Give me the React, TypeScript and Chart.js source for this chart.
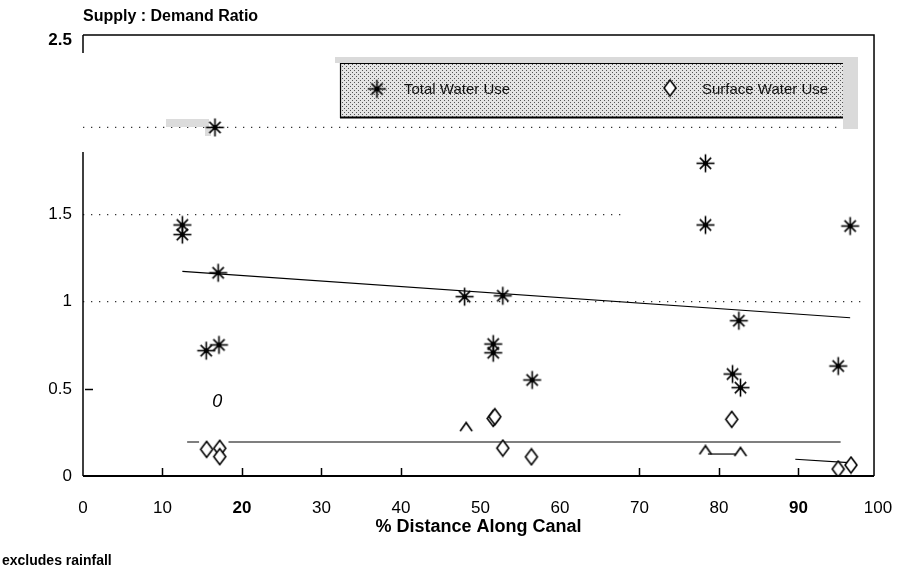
import React, { useEffect, useRef } from "react";
import { Chart, registerables } from "chart.js";

Chart.register(...registerables);

// ---------------- data ----------------
const totalX = [12.5, 12.5, 16.6, 17.0, 15.5, 17.1, 48.0, 52.8, 51.6, 51.6, 56.5, 78.3, 78.3, 96.5, 82.5, 81.7, 82.7, 95.0];
const totalY = [1.44, 1.385, 2.0, 1.166, 0.719, 0.752, 1.029, 1.034, 0.757, 0.707, 0.551, 1.794, 1.44, 1.434, 0.891, 0.585, 0.507, 0.631];

const surfaceX = [15.55, 17.2, 17.2, 48.2, 51.6, 51.8, 52.8, 56.4, 81.6, 78.3, 82.7, 95.0, 96.6];
const surfaceY = [0.153, 0.159, 0.111, 0.283, 0.33, 0.34, 0.16, 0.11, 0.325, 0.15, 0.14, 0.04, 0.063];
const surfacePartial = [false, false, false, true, false, false, false, false, false, true, true, false, false];

const totalTrendX = [12.5, 96.5];
const totalTrendY = [1.174, 0.908];

const surfaceTrendX = [13.1, 14.6, 16.0, 18.3, 95.3];
const surfaceTrendY = [0.195, 0.195, null, 0.195, 0.195];

const endSegX = [89.6, 96.3];
const endSegY = [0.096, 0.077];
const midSegX = [78.6, 82.1];
const midSegY = [0.126, 0.126];

const refLevels = [2, 1.5, 1];
const refLevelEnds = [96.8, 68.2, 98.2];

const xTickValues = [0, 10, 20, 30, 40, 50, 60, 70, 80, 90, 100];
const xBoldTicks = [20, 90];
const xTickMarks = [10, 20, 30, 40, 70, 80, 90];
const yTickValues = [0, 0.5, 1, 1.5, 2.5];
const yBoldTicks = [2.5];
const yTickMarks = [0.5];

const strayTexts = [{ text: "0", x: 16.9, y: 0.425 }];

const FONT = "'Liberation Sans', Arial, Helvetica, sans-serif";

// ---------------- marker images ----------------
function makeStar(): HTMLCanvasElement {
  const c = document.createElement("canvas");
  c.width = 21;
  c.height = 21;
  const g = c.getContext("2d")!;
  g.strokeStyle = "#000";
  g.lineWidth = 1.6;
  const cx = 10.5, cy = 10.5;
  for (let k = 0; k < 4; k++) {
    const a = (k * Math.PI) / 4;
    const r = k % 2 === 0 ? 9 : 8;
    g.beginPath();
    g.moveTo(cx - r * Math.cos(a), cy - r * Math.sin(a));
    g.lineTo(cx + r * Math.cos(a), cy + r * Math.sin(a));
    g.stroke();
  }
  g.beginPath();
  g.arc(cx, cy, 2.5, 0, Math.PI * 2);
  g.fillStyle = "#000";
  g.fill();
  return c;
}

function makeDiamond(): HTMLCanvasElement {
  const c = document.createElement("canvas");
  c.width = 16;
  c.height = 19;
  const g = c.getContext("2d")!;
  g.beginPath();
  g.moveTo(8, 1.5);
  g.lineTo(14, 9.5);
  g.lineTo(8, 17.5);
  g.lineTo(2, 9.5);
  g.closePath();
  g.fillStyle = "#fff";
  g.fill();
  g.strokeStyle = "#000";
  g.lineWidth = 1.6;
  g.stroke();
  return c;
}

function makeHalfDiamond(): HTMLCanvasElement {
  const c = document.createElement("canvas");
  c.width = 16;
  c.height = 11;
  const g = c.getContext("2d")!;
  g.beginPath();
  g.moveTo(2, 10);
  g.lineTo(8, 1.5);
  g.lineTo(14, 10);
  g.strokeStyle = "#000";
  g.lineWidth = 1.6;
  g.stroke();
  return c;
}

function makePattern(ctx: CanvasRenderingContext2D): CanvasPattern | string {
  const c = document.createElement("canvas");
  c.width = 4;
  c.height = 4;
  const g = c.getContext("2d")!;
  g.fillStyle = "#e4e4e4";
  g.fillRect(0, 0, 4, 4);
  g.fillStyle = "#555";
  g.fillRect(0, 0, 1, 1);
  g.fillRect(2, 2, 1, 1);
  return ctx.createPattern(c, "repeat") || "#d0d0d0";
}

export default function App() {
  const ref = useRef<HTMLCanvasElement>(null);

  useEffect(() => {
    document.body.style.margin = "0";
    const star = makeStar();
    const diamond = makeDiamond();
    const half = makeHalfDiamond();

    const lineDs = (xs: number[], ys: (number | null)[], extra: any = {}) => ({
      data: xs.map((x, i) => ({ x, y: ys[i] })),
      showLine: true,
      borderColor: "#000",
      borderWidth: 1.2,
      pointRadius: 0,
      spanGaps: false,
      ...extra,
    });

    const datasets: any[] = [
      {
        label: "Total Water Use",
        data: totalX.map((x, i) => ({ x, y: totalY[i] })),
        showLine: false,
        pointStyle: star,
        pointRadius: 10,
      },
      {
        label: "Surface Water Use",
        data: surfaceX.map((x, i) => ({ x, y: surfaceY[i] })),
        showLine: false,
        pointStyle: (ctx: any) => (surfacePartial[ctx.dataIndex] ? half : diamond),
        pointRadius: 9,
      },
      lineDs(totalTrendX, totalTrendY),
      lineDs(surfaceTrendX, surfaceTrendY),
      lineDs(endSegX, endSegY),
      lineDs(midSegX, midSegY),
      ...refLevels.map((lv, i) =>
        lineDs([0, refLevelEnds[i]], [lv, lv], {
          borderColor: "#333",
          borderWidth: 1.3,
          borderDash: [1.3, 6.7],
        })
      ),
    ];

    const deco = {
      id: "deco",
      beforeDatasetDraw(chart: any, args: any) {
        if (args.index !== 0) return;
        const ctx = chart.ctx;
        ctx.save();
        ctx.fillStyle = "#dcdcdc";
        ctx.fillRect(166, 119, 43, 8);
        ctx.fillRect(205, 127, 6, 9);
        ctx.restore();
      },
      afterDatasetsDraw(chart: any) {
        const ctx: CanvasRenderingContext2D = chart.ctx;
        const { left, right, top, bottom } = chart.chartArea;
        const xs = chart.scales.x;
        const ys = chart.scales.y;
        ctx.save();
        // frame
        ctx.strokeStyle = "#000";
        ctx.lineWidth = 1.5;
        ctx.beginPath();
        ctx.moveTo(left, top);
        ctx.lineTo(right, top);
        ctx.lineTo(right, bottom);
        ctx.moveTo(left, top);
        ctx.lineTo(left, top + 18);
        ctx.moveTo(left, top + 117);
        ctx.lineTo(left, bottom);
        ctx.stroke();
        ctx.lineWidth = 2;
        ctx.beginPath();
        ctx.moveTo(left, bottom);
        ctx.lineTo(right, bottom);
        ctx.stroke();
        // tick marks
        ctx.lineWidth = 1.5;
        ctx.beginPath();
        xTickMarks.forEach((v) => {
          const px = Math.round(xs.getPixelForValue(v)) + 0.5;
          ctx.moveTo(px, bottom);
          ctx.lineTo(px, bottom - 8);
        });
        yTickMarks.forEach((v) => {
          const py = Math.round(ys.getPixelForValue(v)) + 0.5;
          ctx.moveTo(left + 2, py);
          ctx.lineTo(left + 10, py);
        });
        ctx.stroke();

        // legend
        ctx.fillStyle = "#dadada";
        ctx.fillRect(335, 57, 523, 6);
        ctx.fillRect(843, 57, 15, 72);
        ctx.fillStyle = makePattern(ctx) as any;
        ctx.fillRect(340, 63, 503, 55);
        ctx.strokeStyle = "#000";
        ctx.lineWidth = 1.2;
        ctx.beginPath();
        ctx.moveTo(340.5, 118);
        ctx.lineTo(340.5, 63.5);
        ctx.lineTo(843, 63.5);
        ctx.stroke();
        ctx.lineWidth = 1.8;
        ctx.beginPath();
        ctx.moveTo(340, 117.5);
        ctx.lineTo(843, 117.5);
        ctx.stroke();
        ctx.drawImage(star, 377 - star.width / 2, 89 - star.height / 2);
        ctx.drawImage(diamond, 670 - diamond.width / 2, 88 - diamond.height / 2);
        ctx.fillStyle = "#111";
        ctx.font = `15px ${FONT}`;
        ctx.textBaseline = "middle";
        ctx.textAlign = "left";
        ctx.fillText("Total Water Use", 404, 90);
        ctx.fillText("Surface Water Use", 702, 90);

        // texts
        ctx.fillStyle = "#000";
        ctx.font = `bold 16px ${FONT}`;
        ctx.fillText("Supply : Demand Ratio", 83, 17);
        ctx.font = `bold 14px ${FONT}`;
        ctx.fillText("excludes rainfall", 2, 561);
        ctx.font = `italic 18px ${FONT}`;
        ctx.textAlign = "center";
        strayTexts.forEach((t) => {
          ctx.fillText(t.text, xs.getPixelForValue(t.x), ys.getPixelForValue(t.y));
        });
        ctx.restore();
      },
    };

    const chart = new Chart(ref.current!, {
      type: "scatter",
      data: { datasets },
      options: {
        responsive: false,
        animation: false,
        events: [],
        layout: { padding: { left: 0, top: 35, right: 35, bottom: 0 } },
        plugins: {
          legend: { display: false },
          tooltip: { enabled: false },
        },
        scales: {
          x: {
            type: "linear",
            min: 0,
            max: 99.5,
            afterBuildTicks: (s: any) => {
              s.ticks = xTickValues.map((v) => ({ value: v }));
            },
            afterFit: (s: any) => {
              s.height = 98;
            },
            grid: { display: false, drawTicks: false },
            border: { display: false },
            ticks: {
              autoSkip: false,
              maxRotation: 0,
              padding: 22,
              color: "#000",
              font: (c: any) => ({
                family: FONT,
                size: 17,
                weight: c.tick && xBoldTicks.includes(c.tick.value) ? "bold" : "normal",
              }),
              callback: (v: any) => String(v),
            },
            title: {
              display: true,
              text: "% Distance Along Canal",
              color: "#000",
              font: { family: FONT, size: 18, weight: "bold" },
              padding: { top: 0, bottom: 36 },
            },
          },
          y: {
            type: "linear",
            min: 0,
            max: 2.53,
            afterBuildTicks: (s: any) => {
              s.ticks = yTickValues.map((v) => ({ value: v }));
            },
            afterFit: (s: any) => {
              s.width = 83;
            },
            grid: { display: false, drawTicks: false },
            border: { display: false },
            ticks: {
              autoSkip: false,
              padding: 11,
              color: "#000",
              font: (c: any) => ({
                family: FONT,
                size: 17,
                weight: c.tick && yBoldTicks.includes(c.tick.value) ? "bold" : "normal",
              }),
              callback: (v: any) => String(v),
            },
          },
        },
      } as any,
      plugins: [deco],
    });
    return () => chart.destroy();
  }, []);

  return (
    <div style={{ width: 914, height: 574 }}>
      <canvas ref={ref} width={914} height={574} style={{ display: "block" }} />
    </div>
  );
}
